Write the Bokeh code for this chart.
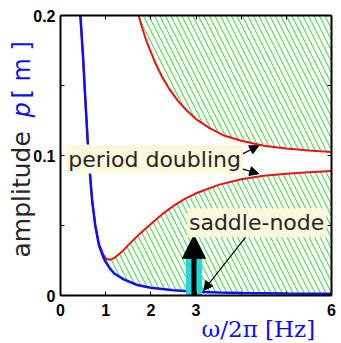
import math
from bokeh.plotting import figure
from bokeh.models import LinearAxis, FixedTicker, Label, Arrow, NormalHead, Range1d
from bokeh.embed import file_html
from bokeh.resources import INLINE

# ---- data ----
blue_x = [0.44, 0.5, 0.55, 0.62, 0.7, 0.77, 0.85, 0.95, 1.0, 1.1, 1.2, 1.4,
          1.7, 2.0, 2.5, 3.0, 3.5, 4.0, 5.0, 6.0]
blue_p = [0.2, 0.17, 0.14, 0.1, 0.068, 0.05, 0.036, 0.027, 0.024, 0.019,
          0.0155, 0.0115, 0.0075, 0.0055, 0.0038, 0.0027, 0.0021, 0.0018,
          0.0015, 0.0013]

red_low_x = [0.44, 0.5, 0.55, 0.62, 0.7, 0.77, 0.85, 0.95, 1.02, 1.1, 1.2,
             1.35, 1.5, 1.75, 2.0, 2.25, 2.5, 2.75, 3.0, 3.5, 4.0, 4.5, 5.0,
             5.5, 6.0]
red_low_p = [0.2, 0.17, 0.14, 0.1, 0.068, 0.05, 0.037, 0.029, 0.026, 0.0255,
             0.027, 0.031, 0.036, 0.044, 0.051, 0.058, 0.064, 0.069, 0.073,
             0.079, 0.083, 0.0855, 0.087, 0.088, 0.089]

red_up_x = [1.73, 1.8, 1.9, 2.0, 2.1, 2.25, 2.4, 2.6, 2.8, 3.0, 3.3, 3.6,
            4.0, 4.5, 5.0, 5.5, 6.0]
red_up_p = [0.2, 0.192, 0.182, 0.174, 0.166, 0.156, 0.148, 0.139, 0.132,
            0.126, 0.1195, 0.1145, 0.1105, 0.107, 0.105, 0.1035, 0.1025]

x_ticks = [0, 1, 2, 3, 4, 5, 6]
x_tick_labels = ["0", "1", "2", "3", "", "", "6"]
y_ticks = [0, 0.05, 0.1, 0.15, 0.2]
y_tick_labels = ["0", "", "0.1", "", "0.2"]

x_min, x_max = 0, 6
y_min, y_max = 0, 0.2

saddle_x = 2.955        # saddle-node marker frequency
saddle_bar_top = 0.026
saddle_arrow_tip = 0.043

hatch_start = 0.85

# ---- figure: frame spans the whole canvas, axes pinned at data positions ----
W, H = 341, 343
left_px, right_px, top_px, bottom_px = 60, 331, 15, 295
sx = (right_px - left_px) / (x_max - x_min)
sy = (bottom_px - top_px) / (y_max - y_min)
xr = Range1d(x_min - left_px / sx, x_max + (W - right_px) / sx)
yr = Range1d(y_min - (H - bottom_px) / sy, y_max + top_px / sy)


def px_x(px):
    return x_min + (px - left_px) / sx


def px_y(py):
    return y_min + (bottom_px - py) / sy


p = figure(width=W, height=H, output_backend="svg", toolbar_location=None,
           x_range=xr, y_range=yr, min_border=0)
p.background_fill_color = "white"
p.border_fill_color = "white"
p.grid.visible = False
p.outline_line_color = None


def style_axis(ax, ticks, labels, show, loc, bounds):
    ax.fixed_location = loc
    ax.bounds = bounds
    ax.ticker = FixedTicker(ticks=ticks)
    ax.major_label_overrides = ({t: l for t, l in zip(ticks, labels)} if show
                                else {t: "" for t in ticks})
    ax.major_tick_in = 4
    ax.major_tick_out = 0
    ax.minor_tick_in = 0
    ax.minor_tick_out = 0
    ax.axis_line_width = 2
    ax.axis_line_color = "black"
    ax.major_tick_line_width = 1
    ax.major_label_text_font = "Liberation Sans"
    ax.major_label_text_font_style = "bold"
    ax.major_label_text_font_size = "16px" if show else "0px"
    ax.major_label_text_color = "black"
    ax.major_label_standoff = 5 if show else 0


style_axis(p.xaxis[0], x_ticks, x_tick_labels, True, y_min, (x_min, x_max))
style_axis(p.yaxis[0], y_ticks, y_tick_labels, True, x_min, (y_min, y_max))
p.xaxis[0].major_label_standoff = 8
p.yaxis[0].major_label_standoff = 5

top_ax = LinearAxis()
right_ax = LinearAxis()
style_axis(top_ax, x_ticks, x_tick_labels, False, y_max, (x_min, x_max))
style_axis(right_ax, y_ticks, y_tick_labels, False, x_max, (y_min, y_max))
p.add_layout(top_ax, "above")
p.add_layout(right_ax, "right")

hatch_kw = dict(hatch_pattern="left_diagonal_line", hatch_color="#22dd22",
                hatch_scale=11, hatch_weight=1, fill_alpha=0)

# hatched region above upper period-doubling curve
p.varea(x=red_up_x, y1=red_up_p, y2=[y_max] * len(red_up_x), **hatch_kw)

# hatched region between blue curve and lower period-doubling curve
lo_x = [x for x in red_low_x if x >= hatch_start]
lo_p = [y for x, y in zip(red_low_x, red_low_p) if x >= hatch_start]
bl_x = [x for x in blue_x if x >= hatch_start]
bl_p = [y for x, y in zip(blue_x, blue_p) if x >= hatch_start]
p.patch(x=lo_x + bl_x[::-1], y=lo_p + bl_p[::-1], line_alpha=0, **hatch_kw)

# curves
p.line(red_up_x, red_up_p, line_color="#ee1111", line_width=2)
p.line(red_low_x, red_low_p, line_color="#ee1111", line_width=2)
p.line(blue_x, blue_p, line_color="#1010ee", line_width=2.5)

# saddle-node marker (cyan bar + black arrow)
p.vbar(x=[saddle_x], top=[saddle_bar_top], bottom=[y_min], width=0.36,
       fill_color="#22d8d8", line_color=None)
p.add_layout(Arrow(end=NormalHead(size=23, fill_color="black", line_color="black"),
                   x_start=saddle_x, y_start=y_min, x_end=saddle_x,
                   y_end=saddle_arrow_tip, line_width=5, line_color="black"))

# annotation arrows
small_head = dict(size=9, fill_color="black", line_color="black", line_width=1)
p.add_layout(Arrow(end=NormalHead(**small_head), x_start=4.02, y_start=0.101,
                   x_end=4.39, y_end=0.107, line_width=1.2, line_color="black"))
p.add_layout(Arrow(end=NormalHead(**small_head), x_start=4.02, y_start=0.0905,
                   x_end=4.39, y_end=0.087, line_width=1.2, line_color="black"))
p.add_layout(Arrow(end=NormalHead(**small_head), x_start=4.1, y_start=0.0417,
                   x_end=3.17, y_end=0.0036, line_width=1.2, line_color="black"))

label_bg = "#fbf9dc"
p.add_layout(Label(x=0.13, y=0.0975, text="period doubling", text_font="DejaVu Sans",
                   text_font_size="22px", text_color="#262626", text_baseline="middle",
                   text_align="left", background_fill_color=label_bg, padding=2))
p.add_layout(Label(x=2.8, y=0.052, text="saddle-node", text_font="DejaVu Sans",
                   text_font_size="22px", text_color="#262626", text_baseline="middle",
                   text_align="left", background_fill_color=label_bg, padding=2))

# axis titles
ylab_x = px_x(21)
p.add_layout(Label(x=ylab_x, y=px_y(257), text="amplitude", angle=math.pi / 2,
                   text_font="DejaVu Sans", text_font_size="25px", text_color="#262626",
                   text_align="left", text_baseline="alphabetic"))
p.add_layout(Label(x=ylab_x, y=px_y(117), text="p", angle=math.pi / 2,
                   text_font="DejaVu Sans", text_font_size="24px", text_color="#1010ee",
                   text_font_style="italic", text_align="left", text_baseline="alphabetic"))
p.add_layout(Label(x=ylab_x, y=px_y(98), text="[ m ]", angle=math.pi / 2,
                   text_font="DejaVu Sans", text_font_size="24px", text_color="#1010ee",
                   text_align="left", text_baseline="alphabetic"))
p.add_layout(Label(x=px_x(201), y=px_y(328), text="\u03c9/2\u03c0 [Hz]",
                   text_font="DejaVu Serif", text_font_size="23px", text_color="#1010ee",
                   text_align="left", text_baseline="alphabetic"))

open("out.html", "w").write(file_html(p, INLINE))
